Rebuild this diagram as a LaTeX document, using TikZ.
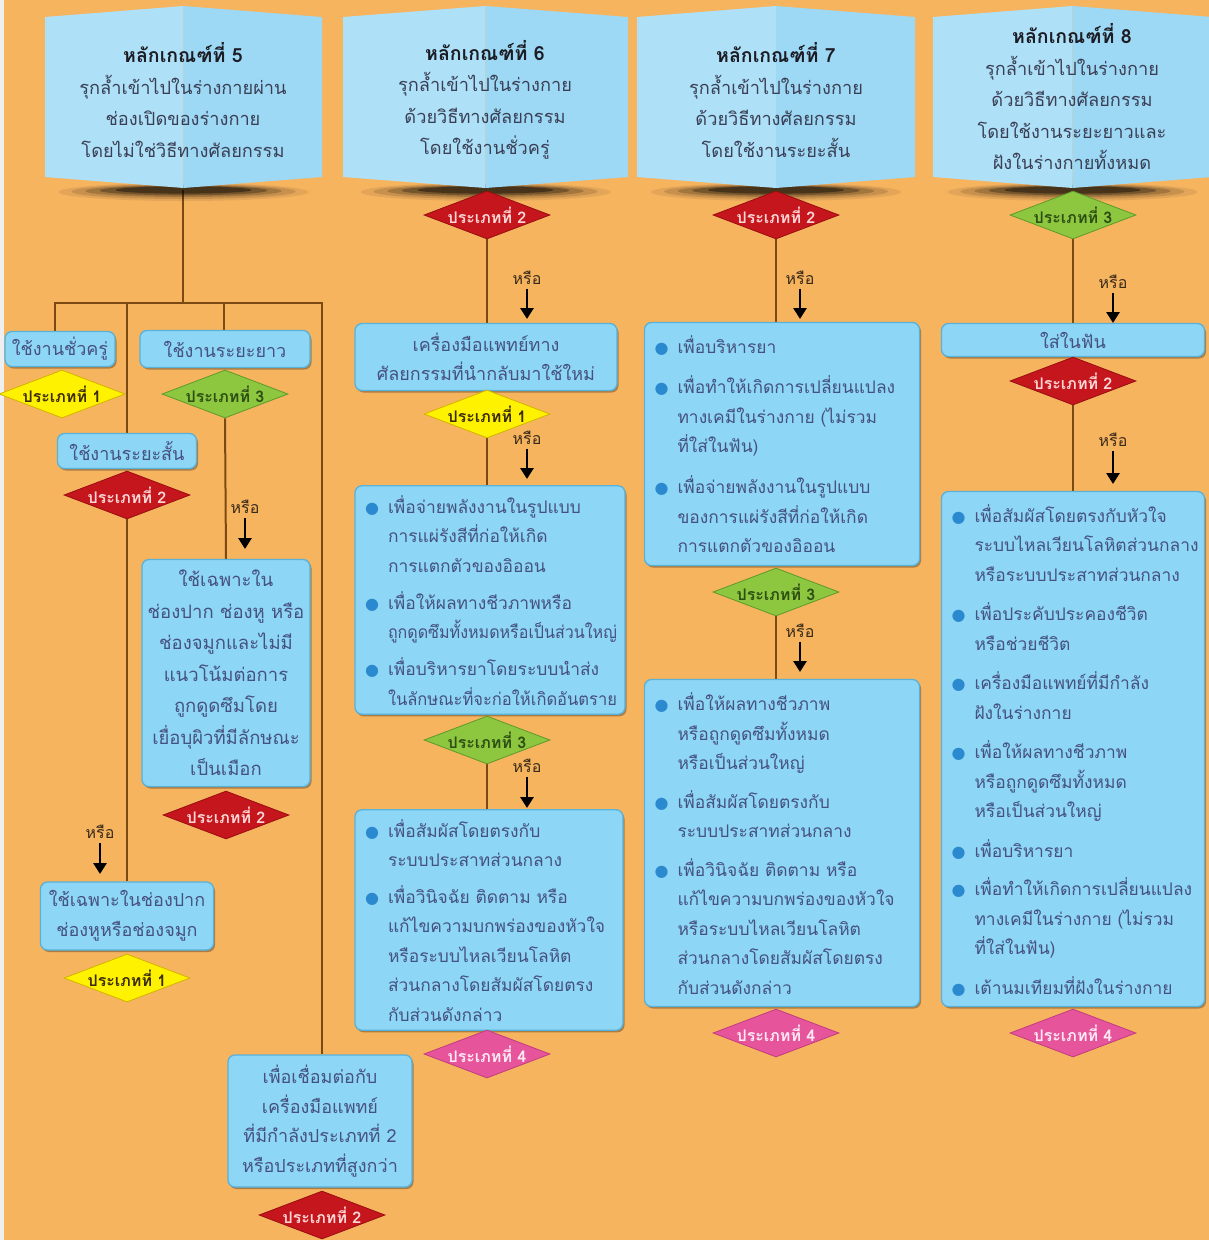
\documentclass[tikz,border=0pt]{standalone}
\usepackage{fontspec}
\usepackage{graphicx}
\setmainfont[Script=Thai]{Loma}
\newfontfamily\dejavu{DejaVu Sans}
\usetikzlibrary{shapes.geometric,arrows.meta,shadows}
\pgfdeclarelayer{bg}
\pgfdeclarelayer{lines}
\pgfsetlayers{bg,lines,main}
\definecolor{bgor}{HTML}{F7B45F}
\definecolor{strip}{HTML}{EFEFEF}
\definecolor{boxfill}{HTML}{8ED6F5}
\definecolor{boxline}{HTML}{58B2DA}
\definecolor{hdrL}{HTML}{AEE1F8}
\definecolor{hdrR}{HTML}{9DD8F4}
\definecolor{hdrT}{HTML}{3A3F55}
\definecolor{hdrTitle}{HTML}{1C1C24}
\definecolor{txt}{HTML}{45517F}
\definecolor{brownln}{HTML}{7B4A12}
\definecolor{bulblue}{HTML}{2B89CF}
\definecolor{dyel}{HTML}{FFF200}
\definecolor{dyelD}{HTML}{D2B400}
\definecolor{dyelT}{HTML}{3B2C0A}
\definecolor{dred}{HTML}{C4161C}
\definecolor{dredD}{HTML}{9A0E12}
\definecolor{dredT}{HTML}{FFD6D6}
\definecolor{dgreen}{HTML}{8DC63F}
\definecolor{dgreenD}{HTML}{5E9A2A}
\definecolor{dgreenT}{HTML}{2D4F14}
\definecolor{dpink}{HTML}{E6559C}
\definecolor{dpinkD}{HTML}{C23C80}
\definecolor{dpinkT}{HTML}{FFEAF4}
\definecolor{orT}{HTML}{3A2A1A}
\newcommand{\bodyfont}{\fontsize{18}{29.5}\selectfont}
\newcommand{\listfont}{\fontsize{17.4}{29.5}\selectfont}
\newcommand{\bstrut}{\rule[-9pt]{0pt}{29.5pt}}
\newcommand{\tstrut}{\rule[-9pt]{0pt}{36.5pt}}
\newcommand{\bgap}{8.5pt}
\newcommand{\squeeze}[1]{\resizebox{229pt}{\height}{#1}}
\newcommand{\bul}{\makebox[23pt][l]{\textcolor{bulblue}{\dejavu\fontsize{16}{16}\selectfont ●}}}
\newcommand{\bline}[2]{\noindent\bul\parbox[t]{\dimexpr\linewidth-23pt\relax}{\listfont#1#2\bstrut}\par}
\newcommand{\bfirst}[1]{\bline{\tstrut}{#1}}
\newcommand{\bitem}[1]{\vspace{\bgap}\bline{\bstrut}{#1}}
\newcommand{\dtxt}[1]{\makebox[0pt]{#1}}
\newcommand{\hdrshape}[2]{%
 \pgfmathsetmacro{\hm}{(#1+#2)/2}%
 \fill[black,opacity=0.08] (\hm,192) ellipse (125 and 9);
 \fill[black,opacity=0.12] (\hm,191.5) ellipse (112 and 7.5);
 \fill[black,opacity=0.18] (\hm,191) ellipse (98 and 6);
 \fill[black,opacity=0.28] (\hm,190.5) ellipse (84 and 4.8);
 \fill[black,opacity=0.4] (\hm,190) ellipse (68 and 3.6);
 \fill[hdrL] (#1,17) -- (\hm,6) -- (\hm,188) -- (#1,177) -- cycle;
 \fill[hdrR] (\hm,6) -- (#2,17) -- (#2,177) -- (\hm,188) -- cycle;
}
\begin{document}
\begin{tikzpicture}[x=1pt,y=-1pt,
  box/.style={draw=boxline, line width=1.3pt, fill=boxfill, rounded corners=7pt,
    text=txt, font=\bodyfont, align=center, inner sep=0pt,
    drop shadow={shadow xshift=1.5pt, shadow yshift=-2pt, opacity=0.3, fill=black}},
  blist/.style={box, align=left, inner xsep=10pt, inner ysep=0pt, font=\listfont},
  dia/.style={diamond, shape aspect=2.6, minimum width=126pt, minimum height=48pt, inner sep=0pt,
    line width=0.8pt, font=\fontsize{16}{16}\selectfont\bfseries},
  dY/.style={dia, fill=dyel, draw=dyelD, text=dyelT},
  dR/.style={dia, fill=dred, draw=dredD, text=dredT},
  dG/.style={dia, fill=dgreen, draw=dgreenD, text=dgreenT},
  dP/.style={dia, fill=dpink, draw=dpinkD, text=dpinkT},
  hdrtxt/.style={align=center, text=hdrT, font=\fontsize{18.2}{31.5}\selectfont, inner sep=0pt},
  conn/.style={draw=brownln, line width=2pt},
  orarr/.style={draw=black, line width=2.8pt, -{Triangle[length=11pt,width=13pt]}},
  orlbl/.style={font=\fontsize{16}{16}\selectfont, text=orT, inner sep=1pt}
]
\useasboundingbox (0,0) rectangle (1209,1240);
\begin{pgfonlayer}{bg}
\fill[bgor] (0,0) rectangle (1209,1240);
\fill[strip] (0,0) rectangle (4,1240);
\end{pgfonlayer}

% headers
\hdrshape{45}{322}
\hdrshape{343}{628}
\hdrshape{637}{915}
\hdrshape{933}{1212}
\node[hdrtxt] (h5) at (183,100) {{\fontsize{19.5}{31.5}\selectfont\bfseries\color{hdrTitle}หลักเกณฑ์ที่ 5}\\รุกล้ำเข้าไปในร่างกายผ่าน\\ช่องเปิดของร่างกาย\\โดยไม่ใช่วิธีทางศัลยกรรม};
\node[hdrtxt] (h6) at (485,100) {{\fontsize{19.5}{31.5}\selectfont\bfseries\color{hdrTitle}หลักเกณฑ์ที่ 6}\\รุกล้ำเข้าไปในร่างกาย\\ด้วยวิธีทางศัลยกรรม\\โดยใช้งานชั่วครู่};
\node[hdrtxt] (h7) at (776,100) {{\fontsize{19.5}{31.5}\selectfont\bfseries\color{hdrTitle}หลักเกณฑ์ที่ 7}\\รุกล้ำเข้าไปในร่างกาย\\ด้วยวิธีทางศัลยกรรม\\โดยใช้งานระยะสั้น};
\node[hdrtxt] (h8) at (1072,97) {{\fontsize{19.5}{31.5}\selectfont\bfseries\color{hdrTitle}หลักเกณฑ์ที่ 8}\\รุกล้ำเข้าไปในร่างกาย\\ด้วยวิธีทางศัลยกรรม\\โดยใช้งานระยะยาวและ\\ฝังในร่างกายทั้งหมด};

% column 5
\node[box, minimum width=110pt, minimum height=35pt] (c5a) at (60,349) {ใช้งานชั่วครู่};
\node[dY] (d5a) at (62,394) {\dtxt{ประเภทที่ 1}};
\node[box, minimum width=170pt, minimum height=37pt] (c5b) at (225,349) {ใช้งานระยะยาว};
\node[dG] (d5b) at (225,394) {\dtxt{ประเภทที่ 3}};
\node[box, minimum width=139pt, minimum height=35pt] (c5c) at (127,451) {ใช้งานระยะสั้น};
\node[dR] (d5c) at (127,495) {\dtxt{ประเภทที่ 2}};
\node[box, minimum width=168pt, minimum height=227pt, font=\fontsize{18.5}{31.5}\selectfont] (c5d) at (226,673) {ใช้เฉพาะใน\\ช่องปาก ช่องหู หรือ\\ช่องจมูกและไม่มี\\แนวโน้มต่อการ\\ถูกดูดซึมโดย\\เยื่อบุผิวที่มีลักษณะ\\เป็นเมือก};
\node[dR] (d5d) at (226,815) {\dtxt{ประเภทที่ 2}};
\node[box, minimum width=173pt, minimum height=68pt] (c5e) at (127,916) {ใช้เฉพาะในช่องปาก\\ช่องหูหรือช่องจมูก};
\node[dY] (d5e) at (127,978) {\dtxt{ประเภทที่ 1}};
\node[box, minimum width=184pt, minimum height=132pt] (c5f) at (320,1121) {เพื่อเชื่อมต่อกับ\\เครื่องมือแพทย์\\ที่มีกำลังประเภทที่ 2\\หรือประเภทที่สูงกว่า};
\node[dR] (d5f) at (322,1215) {\dtxt{ประเภทที่ 2}};

% column 6
\node[dR] (d6a) at (487,215) {\dtxt{ประเภทที่ 2}};
\node[box, minimum width=262pt, minimum height=67pt] (b6a) at (486,357) {เครื่องมือแพทย์ทาง\\ศัลยกรรมที่นำกลับมาใช้ใหม่};
\node[dY] (d6b) at (487,414) {\dtxt{ประเภทที่ 1}};
\node[blist, text width=250pt, minimum height=227pt] (b6b) at (490,600) {\renewcommand{\bgap}{6.5pt}%
\bfirst{เพื่อจ่ายพลังงานในรูปแบบ\\การแผ่รังสีที่ก่อให้เกิด\\การแตกตัวของอิออน}
\bitem{เพื่อให้ผลทางชีวภาพหรือ\\\squeeze{ถูกดูดซึมทั้งหมดหรือเป็นส่วนใหญ่}}
\bitem{เพื่อบริหารยาโดยระบบนำส่ง\\\squeeze{ในลักษณะที่จะก่อให้เกิดอันตราย}}};
\node[dG] (d6c) at (487,740) {\dtxt{ประเภทที่ 3}};
\node[blist, text width=248pt, minimum height=214pt] (b6c) at (489,920) {\renewcommand{\bgap}{6pt}%
\bfirst{เพื่อสัมผัสโดยตรงกับ\\ระบบประสาทส่วนกลาง}
\bitem{เพื่อวินิจฉัย ติดตาม หรือ\\แก้ไขความบกพร่องของหัวใจ\\หรือระบบไหลเวียนโลหิต\\ส่วนกลางโดยสัมผัสโดยตรง\\กับส่วนดังกล่าว}};
\node[dP] (d6d) at (487,1054) {\dtxt{ประเภทที่ 4}};

% column 7
\node[dR] (d7a) at (776,215) {\dtxt{ประเภทที่ 2}};
\node[blist, text width=255pt, minimum height=243pt] (b7a) at (782,444) {\renewcommand{\bgap}{10.5pt}%
\bfirst{เพื่อบริหารยา}
\bitem{เพื่อทำให้เกิดการเปลี่ยนแปลง\\ทางเคมีในร่างกาย (ไม่รวม\\ที่ใส่ในฟัน)}
\bitem{เพื่อจ่ายพลังงานในรูปแบบ\\ของการแผ่รังสีที่ก่อให้เกิด\\การแตกตัวของอิออน}};
\node[dG] (d7b) at (776,592) {\dtxt{ประเภทที่ 3}};
\node[blist, text width=255pt, minimum height=327pt] (b7b) at (782,843) {\renewcommand{\bgap}{8pt}%
\bfirst{เพื่อให้ผลทางชีวภาพ\\หรือถูกดูดซึมทั้งหมด\\หรือเป็นส่วนใหญ่}
\bitem{เพื่อสัมผัสโดยตรงกับ\\ระบบประสาทส่วนกลาง}
\bitem{เพื่อวินิจฉัย ติดตาม หรือ\\แก้ไขความบกพร่องของหัวใจ\\หรือระบบไหลเวียนโลหิต\\ส่วนกลางโดยสัมผัสโดยตรง\\กับส่วนดังกล่าว}};
\node[dP] (d7c) at (776,1033) {\dtxt{ประเภทที่ 4}};

% column 8
\node[dG] (d8a) at (1073,215) {\dtxt{ประเภทที่ 3}};
\node[box, minimum width=263pt, minimum height=33pt] (b8a) at (1073,340) {ใส่ในฟัน};
\node[dR] (d8b) at (1073,381) {\dtxt{ประเภทที่ 2}};
\node[blist, text width=243pt, minimum height=515pt] (b8b) at (1073,749) {\renewcommand{\bgap}{9pt}%
\bfirst{เพื่อสัมผัสโดยตรงกับหัวใจ\\ระบบไหลเวียนโลหิตส่วนกลาง\\หรือระบบประสาทส่วนกลาง}
\bitem{เพื่อประคับประคองชีวิต\\หรือช่วยชีวิต}
\bitem{เครื่องมือแพทย์ที่มีกำลัง\\ฝังในร่างกาย}
\bitem{เพื่อให้ผลทางชีวภาพ\\หรือถูกดูดซึมทั้งหมด\\หรือเป็นส่วนใหญ่}
\bitem{เพื่อบริหารยา}
\bitem{เพื่อทำให้เกิดการเปลี่ยนแปลง\\ทางเคมีในร่างกาย (ไม่รวม\\ที่ใส่ในฟัน)}
\bitem{เต้านมเทียมที่ฝังในร่างกาย}};
\node[dP] (d8c) at (1073,1033) {\dtxt{ประเภทที่ 4}};

% connectors
\begin{pgfonlayer}{lines}
\coordinate (s5) at (183,190);
\coordinate (j5) at (183,303);
\coordinate (j5a) at (55,303);
\coordinate (j5b) at (127,303);
\coordinate (j5c) at (224,303);
\coordinate (j5d) at (322,303);
\draw[conn] (s5) -- (j5);
\draw[conn, line cap=rect] (j5a) -- (j5d);
\draw[conn] (j5a) -- (j5a |- c5a.north);
\draw[conn] (j5b) -- (c5c.north);
\draw[conn] (j5c) -- (j5c |- c5b.north);
\draw[conn] (j5d) -- (j5d |- c5f.north);
\draw[conn] (d5b.south) -- (c5d.north);
\draw[conn] (d5c.south) -- (c5e.north);
\draw[conn] (d6a.south) -- (d6a.south |- b6a.north);
\draw[conn] (d6b.south) -- (d6b.south |- b6b.north);
\draw[conn] (d6c.south) -- (d6c.south |- b6c.north);
\draw[conn] (d7a.south) -- (d7a.south |- b7a.north);
\draw[conn] (d7b.south) -- (d7b.south |- b7b.north);
\draw[conn] (d8a.south) -- (b8a.north);
\draw[conn] (d8b.south) -- (b8b.north);
\end{pgfonlayer}

% "or" arrows
\node[orlbl] (o1) at (100,832) {หรือ};
\coordinate (o1e) at (100,874);
\draw[orarr] (o1.south) ++(0,3) -- (o1e);
\node[orlbl] (o2) at (245,507) {หรือ};
\coordinate (o2e) at (245,549);
\draw[orarr] (o2.south) ++(0,3) -- (o2e);
\node[orlbl] (o3) at (527,278) {หรือ};
\coordinate (o3e) at (527,319);
\draw[orarr] (o3.south) ++(0,3) -- (o3e);
\node[orlbl] (o4) at (527,438) {หรือ};
\coordinate (o4e) at (527,479);
\draw[orarr] (o4.south) ++(0,3) -- (o4e);
\node[orlbl] (o5) at (527,766) {หรือ};
\coordinate (o5e) at (527,808);
\draw[orarr] (o5.south) ++(0,3) -- (o5e);
\node[orlbl] (o6) at (800,278) {หรือ};
\coordinate (o6e) at (800,319);
\draw[orarr] (o6.south) ++(0,3) -- (o6e);
\node[orlbl] (o7) at (800,631) {หรือ};
\coordinate (o7e) at (800,672);
\draw[orarr] (o7.south) ++(0,3) -- (o7e);
\node[orlbl] (o8) at (1113,282) {หรือ};
\coordinate (o8e) at (1113,323);
\draw[orarr] (o8.south) ++(0,3) -- (o8e);
\node[orlbl] (o9) at (1113,440) {หรือ};
\coordinate (o9e) at (1113,484);
\draw[orarr] (o9.south) ++(0,3) -- (o9e);
\end{tikzpicture}
\end{document}
